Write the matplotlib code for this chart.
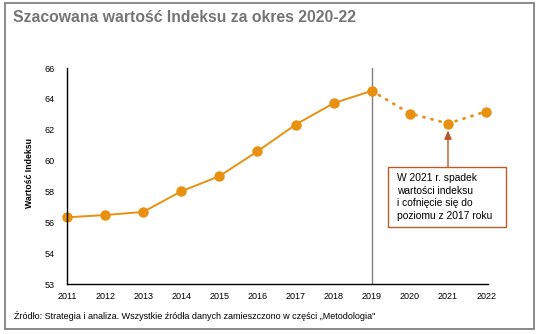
import matplotlib
matplotlib.use("Agg")
import matplotlib.pyplot as plt
from matplotlib.patches import Rectangle

plt.rcParams['font.family'] = ['Liberation Sans', 'DejaVu Sans']

# Index values: actual (2011-2019) and estimated (2019-2022)
years_actual = [2011, 2012, 2013, 2014, 2015, 2016, 2017, 2018, 2019]
values_actual = [56.32, 56.47, 56.67, 58.01, 58.99, 60.60, 62.33, 63.72, 64.52]
years_forecast = [2019, 2020, 2021, 2022]
values_forecast = [64.52, 63.05, 62.40, 63.18]

y_ticks = [52, 54, 56, 58, 60, 62, 64, 66]
y_tick_labels = ["53", "54", "56", "58", "60", "62", "64", "66"]
x_ticks = list(range(2011, 2023))

title = "Szacowana wartość Indeksu za okres 2020-22"
y_label = "Wartość Indeksu"
source = "Źródło: Strategia i analiza. Wszystkie źródła danych zamieszczono w części „Metodologia\""
note = "W 2021 r. spadek\nwartości indeksu\ni cofnięcie się do\npoziomu z 2017 roku"

orange = "#E8900F"
note_col = "#B85A2A"

fig = plt.figure(figsize=(5.4, 3.34), dpi=100)
fig.patch.set_facecolor("white")

# outer frame
fig.add_artist(Rectangle((5/540, 1 - 329/334), 529/540, 326/334,
                         transform=fig.transFigure, fill=False,
                         edgecolor="#808080", linewidth=1.3))

ax = fig.add_axes([67/540, 50/334, 421/540, 216/334])

ax.plot(years_actual, values_actual, color=orange, lw=1.4,
        marker="o", ms=6.5, mec=orange, mfc=orange, zorder=3, clip_on=False)
ax.plot(years_forecast, values_forecast, color=orange, lw=2.0,
        linestyle=(0, (0.4, 2.6)), dash_capstyle="round", zorder=3,
        clip_on=False)
ax.plot(years_forecast[1:], values_forecast[1:], linestyle="none",
        marker="o", ms=6.5, mec=orange, mfc=orange, zorder=3, clip_on=False)

ax.axvline(2019, color="#808080", lw=1, zorder=1)

ax.set_xlim(2011, 2022.05)
ax.set_ylim(52, 66)
ax.set_yticks(y_ticks)
ax.set_yticklabels(y_tick_labels)
ax.set_xticks(x_ticks)
ax.tick_params(axis="both", length=0, labelsize=6.5, colors="black")
ax.tick_params(axis="y", pad=9)
ax.tick_params(axis="x", pad=6)

for side in ("top", "right"):
    ax.spines[side].set_visible(False)
for side in ("left", "bottom"):
    ax.spines[side].set_color("black")
    ax.spines[side].set_linewidth(1)
    ax.spines[side].set_zorder(4)

fig.text(29/540, 1 - 173/334, y_label, fontsize=6.3, fontweight="bold",
         rotation=90, va="center", ha="center")

# annotation about the 2021 dip
box_x0, box_x1 = 2019.42, 2022.52
box_y0, box_y1 = 55.70, 59.58
ax.add_patch(Rectangle((box_x0, box_y0), box_x1 - box_x0, box_y1 - box_y0,
                       fill=True, fc="white", ec=note_col, lw=1,
                       clip_on=False, zorder=5))
ax.annotate("", xy=(2021, values_forecast[2] - 0.45), xytext=(2021, box_y1),
            arrowprops=dict(arrowstyle="-|>,head_length=0.5,head_width=0.22",
                            color=note_col, lw=1, shrinkA=0, shrinkB=0))
ax.text(2019.65, (box_y0 + box_y1) / 2, note, fontsize=7.4, va="center",
        ha="left", linespacing=1.32, zorder=6)

fig.text(13/540, 1 - 18/334, title, fontsize=11.3, fontweight="bold",
         color="#757575", va="center", ha="left")
fig.text(14/540, 1 - 316/334, source, fontsize=6.5, va="center", ha="left")

fig.savefig("out.png", dpi=100)
